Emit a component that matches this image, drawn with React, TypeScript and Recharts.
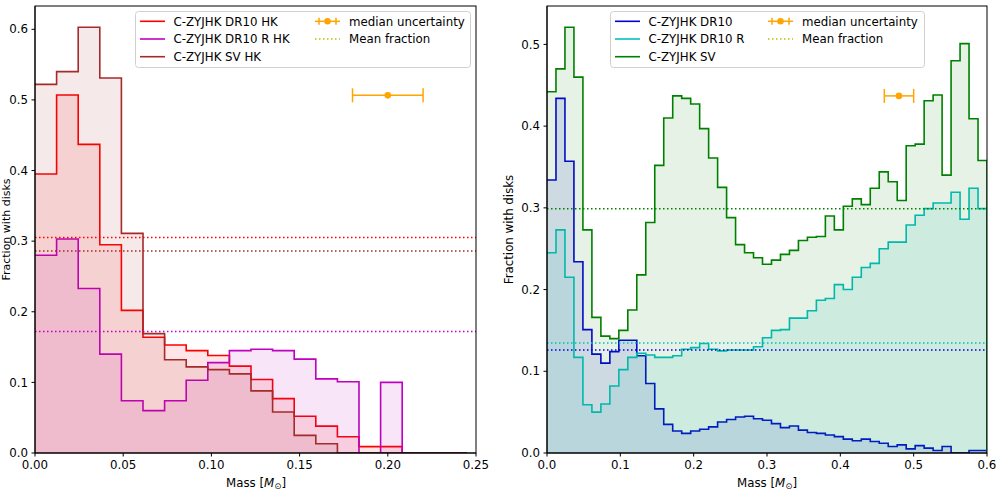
import React from 'react';
import {
  ComposedChart,
  Area,
  XAxis,
  YAxis,
  ReferenceLine,
  Scatter,
  ErrorBar,
} from 'recharts';

const FONT = '"DejaVu Sans", sans-serif';
const FS = 11.8;

// histogram bins: 49 equal bins over 0 - 0.6 Msun
const BIN_WIDTH = 0.6 / 49;

// left panel (HK), fraction per bin
const dr10HK = [0.395, 0.507, 0.437, 0.295, 0.202, 0.164, 0.153, 0.145, 0.138, 0.123, 0.104, 0.077, 0.052, 0.038, 0.023, 0.009, 0.009];
const dr10RHK = [0.28, 0.303, 0.233, 0.14, 0.074, 0.06, 0.074, 0.103, 0.128, 0.145, 0.147, 0.145, 0.133, 0.105, 0.101, 0, 0.1];
const svHK = [0.522, 0.54, 0.603, 0.531, 0.311, 0.169, 0.132, 0.122, 0.118, 0.112, 0.088, 0.058, 0.025, 0.013, 0, 0, 0];
const leftMeans = { dr10HK: 0.305, svHK: 0.286, dr10RHK: 0.172 };

// right panel, fraction per bin
const dr10 = [
  0.334, 0.434, 0.357, 0.234, 0.151, 0.121, 0.11, 0.124, 0.138, 0.138,
  0.119, 0.085, 0.054, 0.035, 0.027, 0.024, 0.027, 0.029, 0.032, 0.038,
  0.041, 0.044, 0.045, 0.042, 0.04, 0.036, 0.031, 0.033, 0.028, 0.025,
  0.024, 0.022, 0.02, 0.017, 0.015, 0.017, 0.014, 0.012, 0.008, 0.01,
  0.005, 0.009, 0.006, 0.003, 0.008, 0, 0, 0.003, 0.003,
];
const dr10R = [
  0.245, 0.273, 0.215, 0.117, 0.059, 0.05, 0.06, 0.082, 0.102, 0.117,
  0.122, 0.12, 0.117, 0.117, 0.119, 0.127, 0.129, 0.134, 0.127, 0.125,
  0.126, 0.126, 0.126, 0.13, 0.141, 0.15, 0.151, 0.165, 0.165, 0.174,
  0.187, 0.189, 0.206, 0.2, 0.215, 0.227, 0.232, 0.25, 0.258, 0.258,
  0.279, 0.291, 0.299, 0.306, 0.306, 0.319, 0.286, 0.324, 0.299,
];
const sv = [
  0.442, 0.47, 0.521, 0.46, 0.273, 0.166, 0.143, 0.14, 0.15, 0.175,
  0.218, 0.282, 0.352, 0.41, 0.437, 0.434, 0.427, 0.397, 0.361, 0.325,
  0.288, 0.255, 0.245, 0.239, 0.231, 0.236, 0.243, 0.248, 0.26, 0.264,
  0.265, 0.29, 0.273, 0.302, 0.311, 0.304, 0.324, 0.344, 0.332, 0.309,
  0.376, 0.378, 0.431, 0.438, 0.34, 0.48, 0.501, 0.409, 0.358,
];
const rightMeans = { sv: 0.299, dr10R: 0.1345, dr10: 0.126 };

const leftUncert = [{ x: 0.2, y: 0.5065, err: 0.02 }];
const rightUncert = [{ x: 0.48, y: 0.437, err: 0.02 }];

const leftXTicks = [0, 0.05, 0.1, 0.15, 0.2, 0.25];
const leftYTicks = [0, 0.1, 0.2, 0.3, 0.4, 0.5, 0.6];
const rightXTicks = [0, 0.1, 0.2, 0.3, 0.4, 0.5, 0.6];
const rightYTicks = [0, 0.1, 0.2, 0.3, 0.4, 0.5];

const C = {
  red: '#ff0000',
  magenta: '#bf00bf',
  brown: '#a52a2a',
  blue: '#0000d8',
  cyan: '#00bfbf',
  green: '#008000',
  orange: '#ffa500',
  olive: '#bfbf00',
};

function buildRows(series: Record<string, number[]>, xMax: number) {
  const rows: Record<string, number>[] = [];
  for (let k = 0; k * BIN_WIDTH <= xMax + 1e-9; k++) {
    const row: Record<string, number> = { x: k * BIN_WIDTH };
    for (const key of Object.keys(series)) {
      row[key] = k < series[key].length ? series[key][k] : 0;
    }
    rows.push(row);
  }
  return rows;
}

const leftRows = buildRows({ dr10HK, dr10RHK, svHK }, 0.25);
const rightRows = buildRows({ dr10, dr10R, sv }, 0.6);

const tickStyle = { fontSize: FS, fill: '#000', fontFamily: FONT };

const dot = (p: any) => <circle cx={p.cx} cy={p.cy} r={3.3} fill={C.orange} />;

function hist(key: string, color: string) {
  return (
    <Area
      key={key}
      type="stepAfter"
      dataKey={key}
      stroke={color}
      strokeWidth={1.6}
      fill={color}
      fillOpacity={0.1}
      dot={false}
      activeDot={false}
      isAnimationActive={false}
    />
  );
}

function meanLine(y: number, color: string) {
  return (
    <ReferenceLine
      key={`m-${color}`}
      y={y}
      stroke={color}
      strokeWidth={1.5}
      strokeDasharray="1.5 2.5"
    />
  );
}

function LegendBox({ x, w, col2, rows }: { x: number; w: number; col2: number; rows: { label: string; color: string }[] }) {
  const rowY = [21.3, 39, 56.7];
  return (
    <g fontFamily={FONT} fontSize={FS}>
      <rect x={x + 0.5} y={11.5} width={w} height={56} rx={3} fill="rgba(255,255,255,0.8)" stroke="#d0d0d0" />
      {rows.map((r, i) => (
        <g key={r.label}>
          <line x1={x + 5} x2={x + 30} y1={rowY[i]} y2={rowY[i]} stroke={r.color} strokeWidth={1.6} />
          <text x={x + 38.5} y={rowY[i] + 4.3} fill="#000">{r.label}</text>
        </g>
      ))}
      {/* median uncertainty handle */}
      <line x1={x + col2} x2={x + col2 + 25} y1={rowY[0]} y2={rowY[0]} stroke={C.orange} strokeWidth={1.5} />
      <line x1={x + col2 + 4} x2={x + col2 + 4} y1={rowY[0] - 3.5} y2={rowY[0] + 3.5} stroke={C.orange} strokeWidth={1.5} />
      <line x1={x + col2 + 21} x2={x + col2 + 21} y1={rowY[0] - 3.5} y2={rowY[0] + 3.5} stroke={C.orange} strokeWidth={1.5} />
      <circle cx={x + col2 + 12.5} cy={rowY[0]} r={3.3} fill={C.orange} />
      <text x={x + col2 + 34} y={rowY[0] + 4.3} fill="#000">median uncertainty</text>
      {/* mean fraction handle */}
      <line x1={x + col2} x2={x + col2 + 25} y1={rowY[1]} y2={rowY[1]} stroke={C.olive} strokeWidth={1.5} strokeDasharray="1.5 2.5" />
      <text x={x + col2 + 34} y={rowY[1] + 4.3} fill="#000">Mean fraction</text>
    </g>
  );
}

function MassLabel({ cx }: { cx: number }) {
  return (
    <text x={cx} y={486.5} textAnchor="middle" fontFamily={FONT} fontSize={FS} fill="#000">
      Mass [<tspan fontStyle="italic">M</tspan>
      <tspan fontSize={8.5} dy={2.5}>⊙</tspan>
      <tspan dy={-2.5}>]</tspan>
    </text>
  );
}

export default function App() {
  return (
    <div style={{ position: 'absolute', left: 0, top: 0, width: 1000, height: 496, background: '#fff', overflow: 'hidden' }}>
      <div style={{ position: 'absolute', left: 0, top: 0 }}>
        <ComposedChart width={490} height={496} data={leftRows} margin={{ top: 6, right: 14, bottom: 23, left: 0 }}>
          <XAxis
            type="number"
            dataKey="x"
            domain={[0, 0.25]}
            ticks={leftXTicks}
            interval={0}
            allowDataOverflow
            tickFormatter={(v: number) => v.toFixed(2)}
            height={20}
            tickSize={3.5}
            tickMargin={4.5}
            stroke="#000"
            tick={tickStyle}
          />
          <YAxis
            type="number"
            domain={[0, 0.633]}
            ticks={leftYTicks}
            interval={0}
            allowDataOverflow
            tickFormatter={(v: number) => v.toFixed(1)}
            width={35}
            tickSize={3.5}
            tickMargin={3.5}
            stroke="#000"
            tick={tickStyle}
          />
          {hist('dr10HK', C.red)}
          {hist('dr10RHK', C.magenta)}
          {hist('svHK', C.brown)}
          {meanLine(leftMeans.dr10HK, C.red)}
          {meanLine(leftMeans.dr10RHK, C.magenta)}
          {meanLine(leftMeans.svHK, C.brown)}
          <Scatter data={leftUncert} dataKey="y" isAnimationActive={false} shape={dot}>
            <ErrorBar dataKey="err" direction="x" width={7} stroke={C.orange} strokeWidth={1.5} />
          </Scatter>
        </ComposedChart>
      </div>
      <div style={{ position: 'absolute', left: 500, top: 0 }}>
        <ComposedChart width={500} height={496} data={rightRows} margin={{ top: 6, right: 13, bottom: 23, left: 12 }}>
          <XAxis
            type="number"
            dataKey="x"
            domain={[0, 0.6]}
            ticks={rightXTicks}
            interval={0}
            allowDataOverflow
            tickFormatter={(v: number) => v.toFixed(1)}
            height={20}
            tickSize={3.5}
            tickMargin={4.5}
            stroke="#000"
            tick={tickStyle}
          />
          <YAxis
            type="number"
            domain={[0, 0.547]}
            ticks={rightYTicks}
            interval={0}
            allowDataOverflow
            tickFormatter={(v: number) => v.toFixed(1)}
            width={35}
            tickSize={3.5}
            tickMargin={3.5}
            stroke="#000"
            tick={tickStyle}
          />
          {hist('dr10', C.blue)}
          {hist('dr10R', C.cyan)}
          {hist('sv', C.green)}
          {meanLine(rightMeans.dr10, C.blue)}
          {meanLine(rightMeans.dr10R, C.cyan)}
          {meanLine(rightMeans.sv, C.green)}
          <Scatter data={rightUncert} dataKey="y" isAnimationActive={false} shape={dot}>
            <ErrorBar dataKey="err" direction="x" width={7} stroke={C.orange} strokeWidth={1.5} />
          </Scatter>
        </ComposedChart>
      </div>
      <svg width={1000} height={496} style={{ position: 'absolute', left: 0, top: 0, pointerEvents: 'none' }}>
        <rect x={35} y={6} width={441} height={447} fill="none" stroke="#000" strokeWidth={1} />
        <rect x={547} y={6} width={440} height={447} fill="none" stroke="#000" strokeWidth={1} />
        <LegendBox
          x={135}
          w={335}
          col2={180}
          rows={[
            { label: 'C-ZYJHK DR10 HK', color: C.red },
            { label: 'C-ZYJHK DR10 R HK', color: C.magenta },
            { label: 'C-ZYJHK SV HK', color: C.brown },
          ]}
        />
        <LegendBox
          x={610}
          w={314}
          col2={158}
          rows={[
            { label: 'C-ZYJHK DR10', color: C.blue },
            { label: 'C-ZYJHK DR10 R', color: C.cyan },
            { label: 'C-ZYJHK SV', color: C.green },
          ]}
        />
        <MassLabel cx={256} />
        <MassLabel cx={767} />
        <text transform="translate(9.5,229.5) rotate(-90)" textAnchor="middle" fontFamily={FONT} fontSize={FS - 0.8} fill="#000">
          Fraction with disks
        </text>
        <text transform="translate(513,229.5) rotate(-90)" textAnchor="middle" fontFamily={FONT} fontSize={FS} fill="#000">
          Fraction with disks
        </text>
      </svg>
    </div>
  );
}
